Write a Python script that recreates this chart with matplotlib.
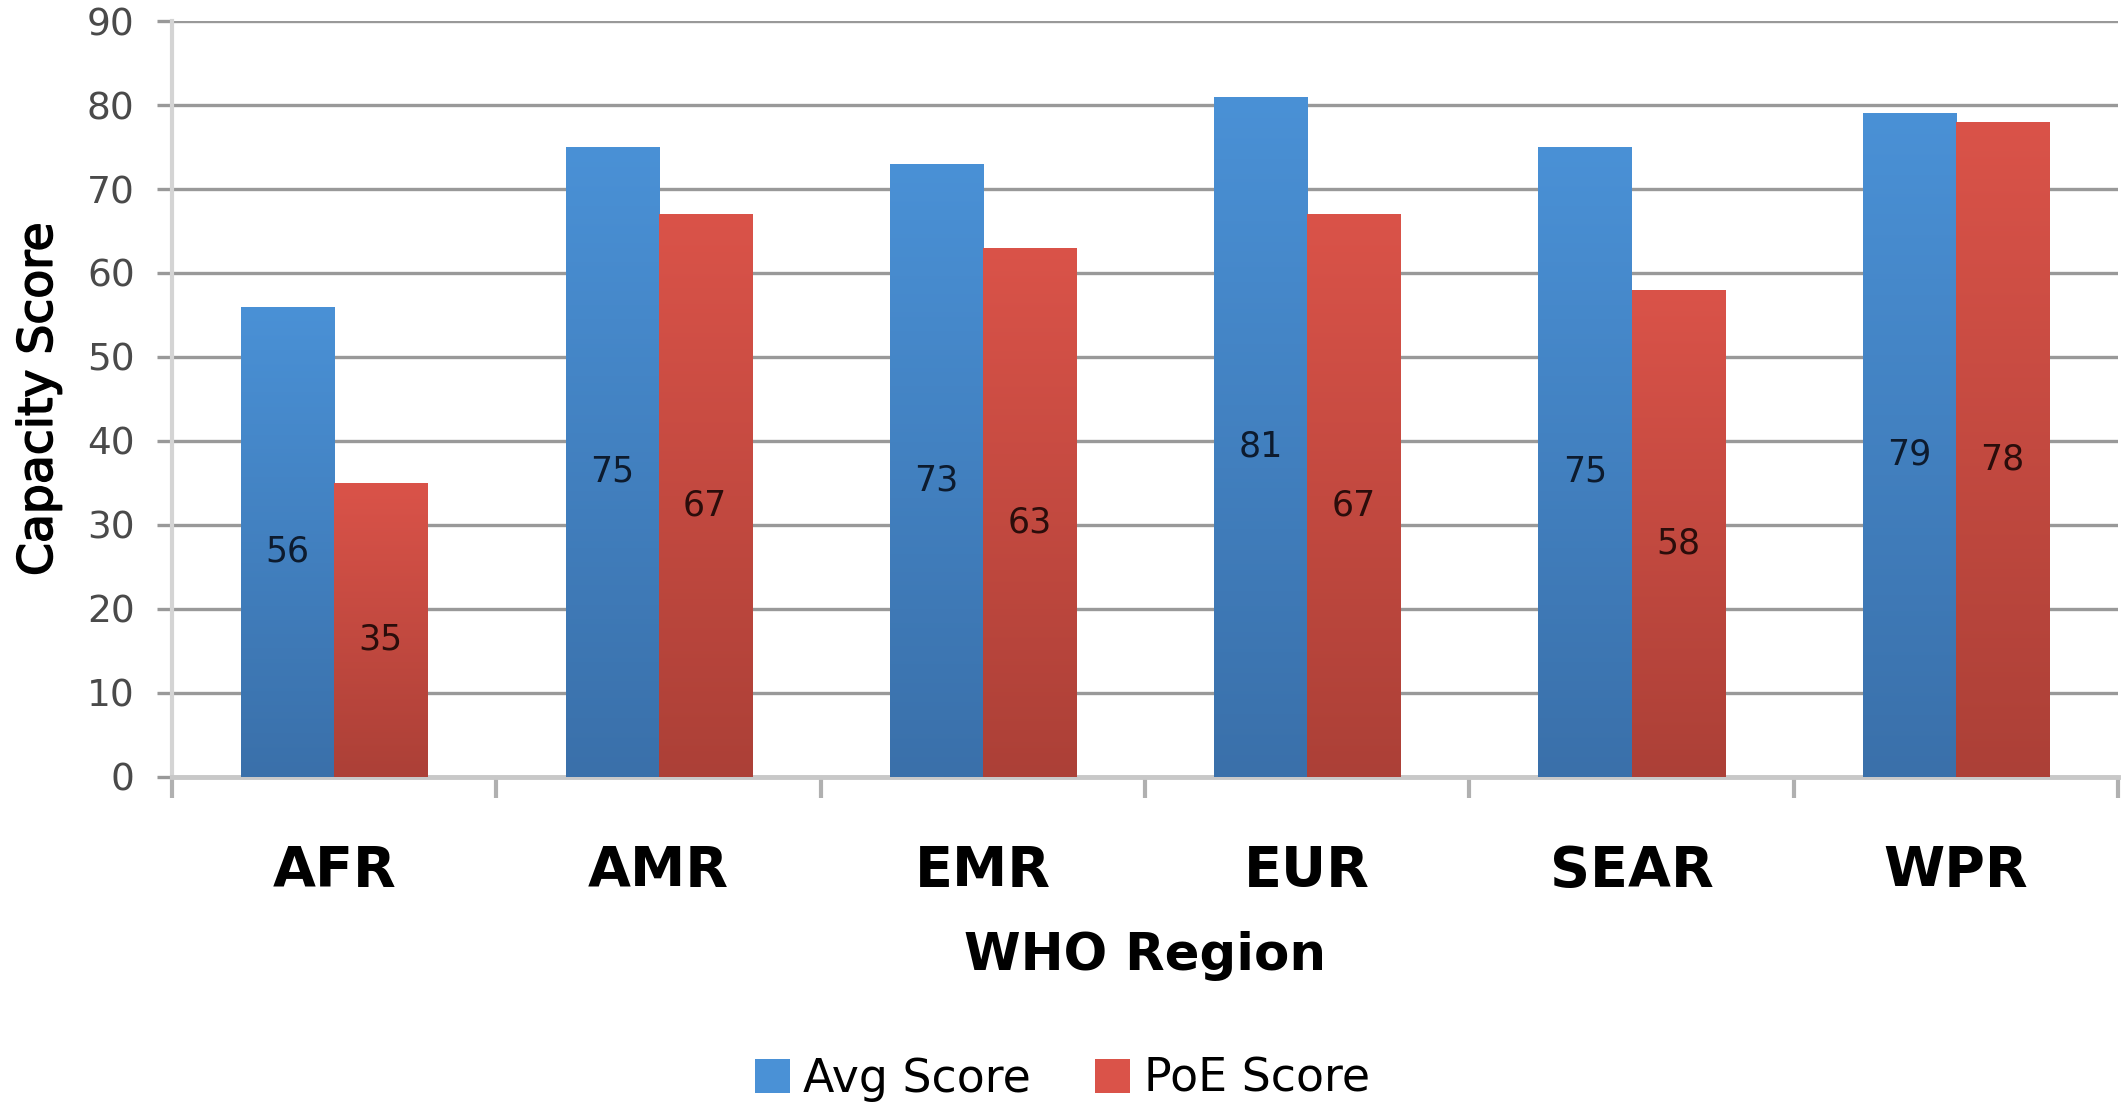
import matplotlib
matplotlib.use('Agg')
import matplotlib.pyplot as plt
import matplotlib.patheffects as pe
import numpy as np
from matplotlib.colors import LinearSegmentedColormap
from matplotlib.patches import Patch

regions = ['AFR', 'AMR', 'EMR', 'EUR', 'SEAR', 'WPR']
avg_score = [56, 75, 73, 81, 75, 79]
poe_score = [35, 67, 63, 67, 58, 78]
series = (
    ('Avg Score', avg_score, '#4a91d6', '#3a70aa', '#0d1b2e'),
    ('PoE Score', poe_score, '#da5349', '#ac4037', '#2b0d0b'),
)

fig = plt.figure(figsize=(21.25, 11.06), dpi=100)
ax = fig.add_axes([0.081, 0.2975, 0.9157, 0.6835])

x = np.arange(len(regions))
w = 0.287
grad = np.linspace(0, 1, 256).reshape(-1, 1)

for k, (name, vals, top, bot, txt) in enumerate(series):
    off = (k - 0.5) * w
    bars = ax.bar(x + off, vals, w, color=top, edgecolor='none', zorder=2)
    cmap = LinearSegmentedColormap.from_list(name, [bot, top])
    for b, v in zip(bars, vals):
        x0 = b.get_x()
        im = ax.imshow(grad, extent=[x0, x0 + w, 0, v], origin='lower',
                       cmap=cmap, aspect='auto', zorder=3)
        im.set_clip_path(b)
        ax.annotate(str(v), (x0 + w / 2, v / 2), xytext=(0, -7),
                    textcoords='offset points', ha='center', va='center',
                    fontsize=25, color=txt, zorder=4)

ax.set_xlim(-0.5, len(regions) - 0.5)
ax.set_ylim(0, 90)
ax.set_yticks(range(0, 91, 10))
ax.grid(axis='y', color='#999999', linewidth=2.4, zorder=1)
ax.set_axisbelow(True)

ax.set_xticks(x)
ax.set_xticklabels(regions, fontsize=40, fontweight='bold')
ax.set_xticks(np.arange(-0.5, len(regions)), minor=True)
ax.tick_params(axis='x', which='major', length=0, pad=48)
ax.tick_params(axis='x', which='minor', length=15, width=3, color='#b0b0b0')
ax.tick_params(axis='y', length=11, width=2.4, color='#999999',
               labelsize=27, labelcolor='#4a4a4a', pad=16)

for s in ('top', 'right'):
    ax.spines[s].set_visible(False)
ax.spines['left'].set_color('#d4d4d4')
ax.spines['left'].set_linewidth(3)
ax.spines['bottom'].set_color('#c8c8c8')
ax.spines['bottom'].set_linewidth(3.5)

ax.set_xlabel('WHO Region', fontsize=37, fontweight='bold', labelpad=24)
yl = ax.set_ylabel('Capacity Score', fontsize=34, labelpad=18)
yl.set_path_effects([pe.withStroke(linewidth=1.2, foreground='black')])

handles = [Patch(facecolor=s[2], edgecolor='none') for s in series]
fig.legend(handles, [s[0] for s in series], loc='center',
           bbox_to_anchor=(0.5, 0.024), ncol=2, frameon=False,
           fontsize=33, handlelength=0.75, handleheight=0.75,
           handletextpad=0.3, columnspacing=1.4)

plt.savefig('out.png')
